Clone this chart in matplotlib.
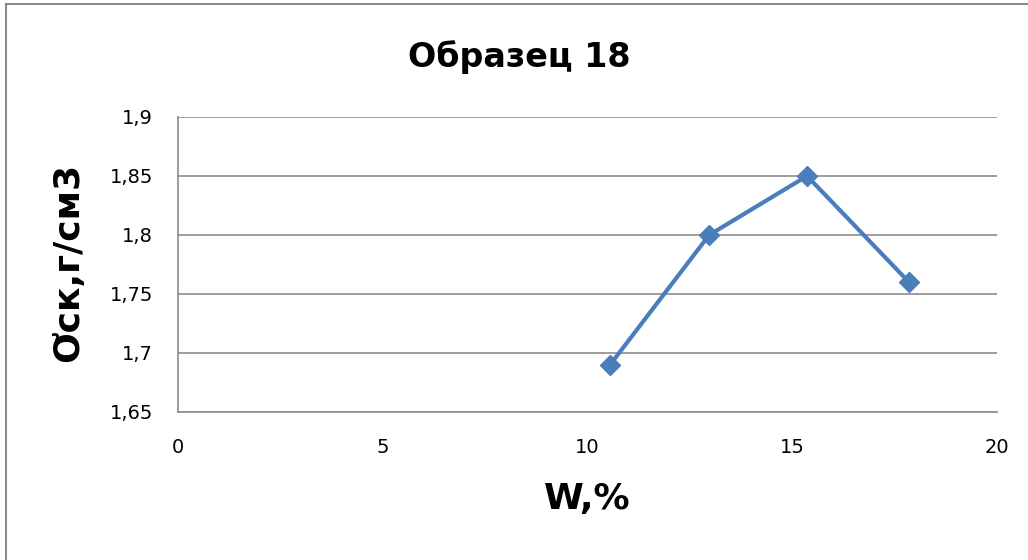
import matplotlib
matplotlib.use("Agg")
import matplotlib.pyplot as plt
from matplotlib.patches import Rectangle

plt.rcParams['font.family'] = ['DejaVu Sans']

# данные
w_values = [10.55, 12.97, 15.36, 17.85]
density = [1.69, 1.80, 1.85, 1.76]
x_ticks = [0, 5, 10, 15, 20]
y_ticks = [1.65, 1.7, 1.75, 1.8, 1.85, 1.9]
y_tick_labels = ["1,65", "1,7", "1,75", "1,8", "1,85", "1,9"]

fig = plt.figure(figsize=(10.28, 5.60), dpi=100)
ax = fig.add_axes([0.1732, 0.2643, 0.7967, 0.5268])

ax.plot(w_values, density, color="#4a7ebb", linewidth=3, marker="D",
        markersize=10, markerfacecolor="#4a7ebb", markeredgecolor="#4a7ebb", zorder=3)

ax.set_xlim(0, 20)
ax.set_ylim(1.65, 1.9)
ax.set_xticks(x_ticks)
ax.set_xticklabels([str(t) for t in x_ticks])
ax.set_yticks(y_ticks)
ax.set_yticklabels(y_tick_labels)
ax.tick_params(axis="both", length=0, labelsize=14)
ax.tick_params(axis="y", pad=18)
ax.tick_params(axis="x", pad=19)
ax.grid(axis="y", color="#8c8c8c", linewidth=1.2)
for side in ["top", "right"]:
    ax.spines[side].set_visible(False)
for side in ["left", "bottom"]:
    ax.spines[side].set_color("#8c8c8c")
    ax.spines[side].set_linewidth(1.2)

fig.text(0.505, 0.898, "Образец 18", ha="center", va="center",
         fontsize=24, fontweight="bold")
fig.text(0.571, 0.109, "W,%", ha="center", va="center",
         fontsize=26, fontweight="bold")
fig.text(0.066, 0.532, "Ơск,г/см3", ha="center", va="center", rotation=90,
         fontsize=26, fontweight="bold")

# рамка диаграммы (уходит за правый и нижний край)
fig.patches.append(Rectangle((0.0062, -0.05), 1.1, 1.042, transform=fig.transFigure,
                             fill=False, edgecolor="#8a8a8a", linewidth=1.5))

fig.savefig("out.png", dpi=100)
